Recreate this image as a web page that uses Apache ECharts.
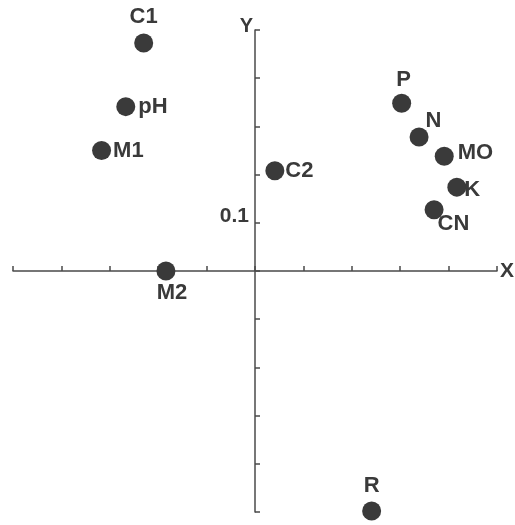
<!DOCTYPE html>
<html>
<head>
<meta charset="utf-8">
<script src="https://cdn.jsdelivr.net/npm/echarts@6/dist/echarts.min.js"></script>
<style>
html,body{margin:0;padding:0;background:#fff;}
#chart{width:515px;height:525px;}
</style>
</head>
<body>
<div id="chart"></div>
<script>
// Data
var pointNames = ['C1', 'pH', 'M1', 'C2', 'M2', 'P', 'N', 'MO', 'K', 'CN', 'R'];
var xValues = [-0.230, -0.267, -0.317, 0.041, -0.184, 0.303, 0.339, 0.391, 0.417, 0.370, 0.241];
var yValues = [0.473, 0.341, 0.250, 0.208, 0.000, 0.348, 0.278, 0.238, 0.174, 0.127, -0.498];
var shownTickLabels = ['0.1'];

// Label placement (style only)
var labelPlacement = {
  'C1': {position: 'top', distance: 6, offset: [0, 0]},
  'pH': {position: 'right', distance: 3, offset: [0, 0]},
  'M1': {position: 'right', distance: 2, offset: [0, 0]},
  'C2': {position: 'right', distance: 1, offset: [0, 0]},
  'M2': {position: 'bottom', distance: 1, offset: [6, 0]},
  'P':  {position: 'top', distance: 3, offset: [2, 0]},
  'N':  {position: 'right', distance: 0, offset: [-3, -16]},
  'MO': {position: 'right', distance: 4, offset: [0, -3]},
  'K':  {position: 'right', distance: 0, offset: [-2, 3]},
  'CN': {position: 'right', distance: 0, offset: [-6, 14]},
  'R':  {position: 'top', distance: 5, offset: [0, 0]}
};

var ink = '#3a3a3a';
var fontFam = '"Liberation Sans", Arial, Helvetica, sans-serif';
var gridLeft = 13, gridRight = 18, chartW = 515;
var halfW = (chartW - gridLeft - gridRight) / 2;

var seriesData = pointNames.map(function (n, i) {
  var lp = labelPlacement[n];
  return {
    name: n,
    value: [xValues[i], yValues[i]],
    label: {show: true, position: lp.position, distance: lp.distance, offset: lp.offset}
  };
});

var chart = echarts.init(document.getElementById('chart'), null, {renderer: 'canvas'});
chart.setOption({
  animation: false,
  backgroundColor: '#ffffff',
  grid: {left: gridLeft, right: gridRight, top: 30, bottom: 13, containLabel: false, outerBoundsMode: 'none'},
  xAxis: {
    type: 'value',
    min: -0.5, max: 0.5, interval: 0.1,
    name: 'X', nameLocation: 'end', nameGap: 3,
    nameTextStyle: {color: ink, fontSize: 21, fontWeight: 'bold', fontFamily: fontFam, verticalAlign: 'middle'},
    axisLine: {show: true, onZero: true, lineStyle: {color: '#4a4a4a', width: 1.5}},
    axisTick: {show: true, inside: true, length: 5, lineStyle: {color: '#4a4a4a', width: 1.5}},
    axisLabel: {show: false},
    splitLine: {show: false}
  },
  yAxis: {
    type: 'value',
    position: 'left',
    offset: -halfW,
    min: -0.5, max: 0.5, interval: 0.1,
    name: 'Y', nameLocation: 'end', nameGap: 4,
    nameTextStyle: {color: ink, fontSize: 20, fontWeight: 'bold', fontFamily: fontFam, align: 'right', verticalAlign: 'middle', padding: [0, 2, 0, 0]},
    axisLine: {show: true, onZero: false, lineStyle: {color: '#4a4a4a', width: 1.5}},
    axisTick: {show: true, inside: true, length: 5, lineStyle: {color: '#4a4a4a', width: 1.5}},
    axisLabel: {
      show: true, margin: 6, color: ink, fontSize: 21, fontWeight: 'bold', fontFamily: fontFam,
      verticalAlign: 'bottom', padding: [0, 0, -4, 0],
      formatter: function (v) {
        for (var k = 0; k < shownTickLabels.length; k++) {
          if (Math.abs(v - parseFloat(shownTickLabels[k])) < 1e-9) return shownTickLabels[k];
        }
        return '';
      }
    },
    splitLine: {show: false}
  },
  series: [{
    type: 'scatter',
    symbol: 'circle',
    symbolSize: 19,
    itemStyle: {color: ink, opacity: 1},
    label: {
      show: true,
      formatter: '{b}',
      color: ink, fontSize: 22, fontWeight: 'bold', fontFamily: fontFam
    },
    data: seriesData
  }]
});
</script>
</body>
</html>
